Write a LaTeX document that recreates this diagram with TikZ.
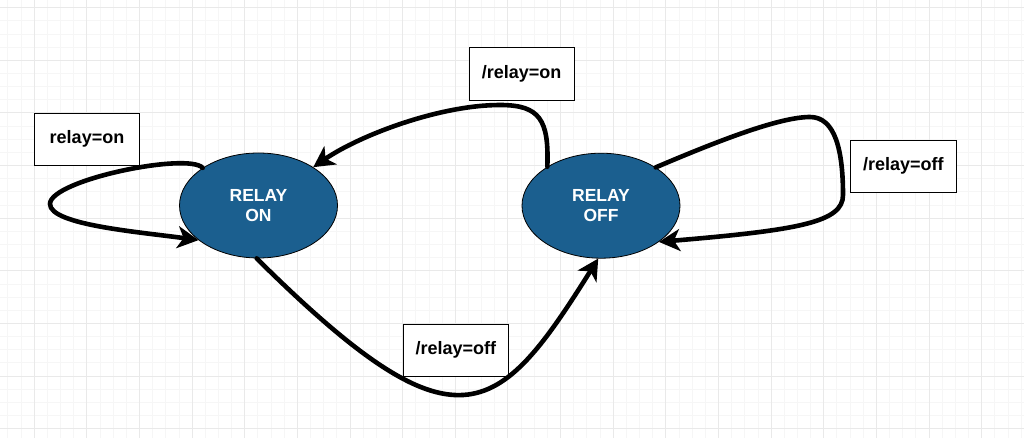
\documentclass[tikz,border=0pt]{standalone}
\usepackage{fontspec}
\setmainfont{Liberation Sans}
\usetikzlibrary{shapes.geometric,arrows.meta}
\definecolor{statefill}{RGB}{27,95,143}
\tikzset{
  minorline/.style={draw=gray!7,line width=1pt},
  majorline/.style={draw=gray!17,line width=1pt},
  statenode/.style={ellipse,draw=black,line width=0.8pt,fill=statefill,text=white,
    minimum width=158pt,minimum height=105pt,inner sep=0pt,align=center,
    font=\fontsize{17.5}{20}\selectfont\bfseries},
  labelbox/.style={rectangle,draw=black,line width=0.8pt,fill=white,
    minimum width=105.3pt,minimum height=52.6pt,inner sep=0pt,
    font=\fontsize{18}{20}\selectfont\bfseries},
  edge/.style={draw=black,line width=4.6pt,line cap=round,
    -{Stealth[length=21pt,width=22pt,inset=6pt]}}
}
\begin{document}
\begin{tikzpicture}[x=1pt,y=-1pt]
\useasboundingbox[fill=white] (0,0) rectangle (1024,438);
% grid
\foreach \i in {-2,...,75}{
  \pgfmathsetmacro{\gx}{34.3+\i*13.158}
  \draw[minorline] (\gx,0) -- (\gx,438);
}
\foreach \j in {0,...,32}{
  \pgfmathsetmacro{\gy}{7.7+\j*13.158}
  \draw[minorline] (0,\gy) -- (1024,\gy);
}
\foreach \k in {0,...,18}{
  \pgfmathsetmacro{\gx}{34.3+\k*52.63}
  \draw[majorline] (\gx,0) -- (\gx,438);
}
\foreach \k in {0,...,8}{
  \pgfmathsetmacro{\gy}{7.7+\k*52.63}
  \draw[majorline] (0,\gy) -- (1024,\gy);
}
% states
\node[statenode] (on) at (258.5,205.5) {RELAY\\ON};
\node[statenode] (off) at (601,205.7) {RELAY\\OFF};
% labels
\node[labelbox] (l1) at (87,139.3) {relay=on};
\node[labelbox] (l2) at (521.7,74.2) {/relay=on};
\node[labelbox] (l3) at (903.3,166.3) {/relay=off};
\node[labelbox] (l4) at (455.8,350.3) {/relay=off};
% edges
\draw[edge] (on.146) .. controls (188,152) and (50,180) .. (50,204)
  .. controls (50,225) and (140,232) .. (on.210);
\draw[edge] (off.144) .. controls (549,120) and (540,105) .. (500,105)
  .. controls (440,105) and (360,135) .. (on.35);
\draw[edge] (on.268) .. controls (457,457) and (497,420) .. (off.267);
\draw[edge] (off.35) .. controls (720,140) and (780,117) .. (810,117)
  .. controls (835,117) and (843,150) .. (843,195)
  .. controls (843,222) and (800,230) .. (off.328);
\end{tikzpicture}
\end{document}
